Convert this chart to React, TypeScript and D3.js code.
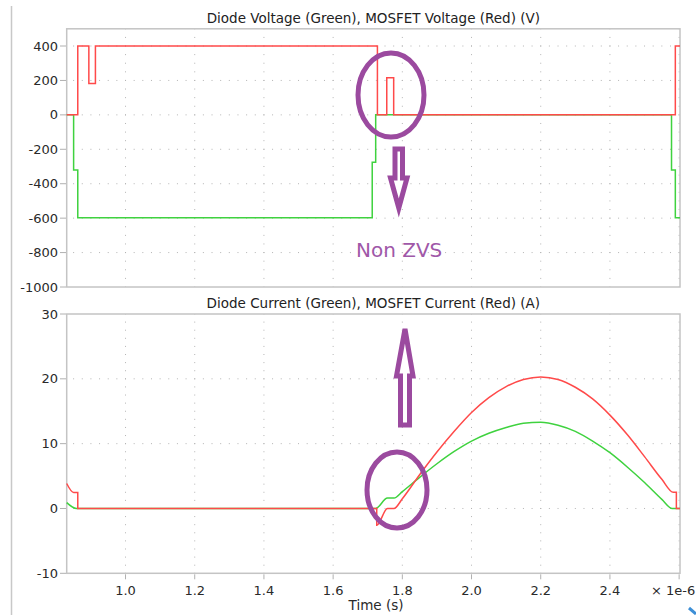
import React, { useEffect, useRef } from 'react';
import * as d3 from 'd3';

// time axis (units of 1e-6 s)
const timeTicks = [1.0, 1.2, 1.4, 1.6, 1.8, 2.0, 2.2, 2.4, 2.6];
const timeLabels = ['1.0', '1.2', '1.4', '1.6', '1.8', '2.0', '2.2', '2.4'];
const voltTicks = [400, 200, 0, -200, -400, -600, -800, -1000];
const currTicks = [30, 20, 10, 0, -10];

// [time, volts]
const mosfetVoltage: [number, number][] = [
  [0.83, 0], [0.862, 0], [0.862, 400], [0.894, 400], [0.894, 182], [0.913, 182],
  [0.913, 400], [1.728, 400], [1.728, 0], [1.755, 0], [1.755, 215], [1.775, 215],
  [1.775, 0], [2.589, 0], [2.589, 400], [2.6025, 400],
];
const diodeVoltage: [number, number][] = [
  [0.83, 0], [0.85, 0], [0.85, -320], [0.862, -320], [0.862, -598], [1.713, -598],
  [1.713, -275], [1.723, -275], [1.723, 0], [2.578, 0], [2.578, -320], [2.589, -320],
  [2.589, -598], [2.6025, -598],
];

// [time, amps]
const mosfetCurrent: [number, number][] = [
  [0.83, 3.85], [0.85, 2.46], [0.862, 2.46], [0.862, 0], [1.726, 0], [1.726, -2.6],
  [1.757, 0], [1.776, 0], [1.80, 1.5], [1.85, 5.2], [1.90, 8.7], [1.95, 11.9],
  [2.00, 14.8], [2.05, 17.1], [2.10, 18.8], [2.15, 19.9], [2.20, 20.3], [2.25, 19.9],
  [2.30, 18.7], [2.35, 16.9], [2.40, 14.4], [2.45, 11.4], [2.50, 8.0], [2.55, 4.5],
  [2.583, 2.5], [2.592, 2.5], [2.592, 0], [2.6025, 0],
];
const diodeCurrent: [number, number][] = [
  [0.83, 0.9], [0.858, 0], [1.723, 0], [1.757, 1.6], [1.776, 1.6], [1.80, 2.6],
  [1.85, 4.8], [1.90, 6.9], [1.95, 8.8], [2.00, 10.4], [2.05, 11.6], [2.10, 12.5],
  [2.15, 13.15], [2.20, 13.3], [2.25, 12.85], [2.30, 11.9], [2.35, 10.4], [2.40, 8.6],
  [2.45, 6.4], [2.50, 4.0], [2.55, 1.4], [2.58, 0], [2.6025, 0],
];

const RED = '#ff4a4a';
const GREEN = '#3fd23f';
const PURPLE = '#9b4a9f';
const FONT = 'DejaVu Sans, sans-serif';

export default function App() {
  const ref = useRef<SVGSVGElement>(null);

  useEffect(() => {
    const svg = d3.select(ref.current);
    svg.selectAll('*').remove();

    const x = d3.scaleLinear().domain([0.83, 2.6025]).range([66.7, 680]);
    const xStep = x(0.875) - x(0.85);

    // window border on the left
    svg.append('line').attr('x1', 11.5).attr('x2', 11.5).attr('y1', 6).attr('y2', 615)
      .attr('stroke', '#c8c8c8').attr('stroke-width', 1.5);

    const panel = (
      yDomain: [number, number], yTop: number, yBot: number, ticks: number[],
      gridY: number[], minorY: number, title: string,
      series: { data: [number, number][]; color: string }[], showX: boolean, smooth: boolean,
    ) => {
      const y = d3.scaleLinear().domain(yDomain).range([yBot, yTop]);
      const g = svg.append('g');
      const yStep = Math.abs(y(yDomain[0] + minorY) - y(yDomain[0]));

      // vertical dotted grid
      timeTicks.forEach(t => {
        g.append('line').attr('x1', x(t)).attr('x2', x(t)).attr('y1', yBot).attr('y2', yTop)
          .attr('stroke', '#b4b4b4').attr('stroke-width', 1)
          .attr('stroke-dasharray', `1 ${yStep - 1}`).attr('stroke-dashoffset', 0.5);
      });
      // horizontal dotted grid
      const d0 = x(0.85) - x.range()[0];
      gridY.forEach(v => {
        g.append('line').attr('x1', x.range()[0]).attr('x2', x.range()[1]).attr('y1', y(v)).attr('y2', y(v))
          .attr('stroke', '#b4b4b4').attr('stroke-width', 1)
          .attr('stroke-dasharray', `1 ${xStep - 1}`).attr('stroke-dashoffset', xStep - d0 + 0.5);
      });

      // frame
      g.append('rect').attr('x', x.range()[0]).attr('y', yTop)
        .attr('width', x.range()[1] - x.range()[0]).attr('height', yBot - yTop)
        .attr('fill', 'none').attr('stroke', '#c4c4c4').attr('stroke-width', 1.5);

      // y ticks
      ticks.forEach(v => {
        g.append('line').attr('x1', 60).attr('x2', 66).attr('y1', y(v)).attr('y2', y(v))
          .attr('stroke', '#b0b0b0').attr('stroke-width', 1);
        g.append('text').attr('x', 58).attr('y', y(v)).attr('dy', '0.35em')
          .attr('text-anchor', 'end').attr('font-family', FONT).attr('font-size', 13)
          .attr('fill', '#2a2a2a').text(v);
      });

      if (showX) {
        timeTicks.forEach((t, i) => {
          g.append('line').attr('x1', x(t)).attr('x2', x(t)).attr('y1', yBot + 1).attr('y2', yBot + 6)
            .attr('stroke', '#b0b0b0').attr('stroke-width', 1);
          if (timeLabels[i]) {
            g.append('text').attr('x', x(t)).attr('y', yBot + 22).attr('text-anchor', 'middle')
              .attr('font-family', FONT).attr('font-size', 13).attr('fill', '#2a2a2a').text(timeLabels[i]);
          }
        });
      }

      g.append('text').attr('x', (x.range()[0] + x.range()[1]) / 2).attr('y', yTop - 6)
        .attr('text-anchor', 'middle').attr('font-family', FONT).attr('font-size', 13.5)
        .attr('fill', '#222').text(title);

      const line = d3.line<[number, number]>().x(d => x(d[0])).y(d => y(d[1]))
        .curve(smooth ? d3.curveMonotoneX : d3.curveLinear);
      series.forEach(s => {
        g.append('path').attr('d', line(s.data)).attr('fill', 'none')
          .attr('stroke', s.color).attr('stroke-width', 1.5);
      });
    };

    panel([-1000, 500], 28.8, 287, voltTicks, [400, 200, 0, -200, -400, -600, -800], 50,
      'Diode Voltage (Green), MOSFET Voltage (Red) (V)',
      [{ data: diodeVoltage, color: GREEN }, { data: mosfetVoltage, color: RED }], false, false);

    panel([-10, 30], 314, 573.3, currTicks, [20, 10, 0], 1.25,
      'Diode Current (Green), MOSFET Current (Red) (A)',
      [{ data: diodeCurrent, color: GREEN }, { data: mosfetCurrent, color: RED }], true, true);

    svg.append('text').attr('x', 376).attr('y', 610).attr('text-anchor', 'middle')
      .attr('font-family', FONT).attr('font-size', 13.5).attr('fill', '#2a2a2a').text('Time (s)');
    svg.append('text').attr('x', 651).attr('y', 595)
      .attr('font-family', FONT).attr('font-size', 13).attr('fill', '#2a2a2a').text('× 1e-6');
    svg.append('line').attr('x1', 689).attr('y1', 608).attr('x2', 696).attr('y2', 614)
      .attr('stroke', '#3d8fd6').attr('stroke-width', 3);

    // annotations
    const ann = svg.append('g').attr('fill', 'none').attr('stroke', PURPLE).attr('stroke-width', 5);
    ann.append('ellipse').attr('cx', 391).attr('cy', 95).attr('rx', 33).attr('ry', 42);
    ann.append('ellipse').attr('cx', 397).attr('cy', 490).attr('rx', 30).attr('ry', 38);
    ann.append('path').attr('fill', 'white')
      .attr('d', 'M395,149 L402.5,149 L402.5,178 L407,178 L398.8,208 L390.5,178 L395,178 Z');
    ann.append('path').attr('fill', 'white')
      .attr('d', 'M400.5,425 L409.5,425 L409.5,376 L413,376 L405,329 L396.5,376 L400.5,376 Z');

    svg.append('text').attr('x', 356).attr('y', 257).attr('font-family', FONT)
      .attr('font-size', 20).attr('fill', '#a058a8').text('Non ZVS');
  }, []);

  return (
    <svg ref={ref} width={696} height={615} viewBox="0 0 696 615"
      style={{ position: 'absolute', left: 0, top: 0, background: 'white' }} />
  );
}
